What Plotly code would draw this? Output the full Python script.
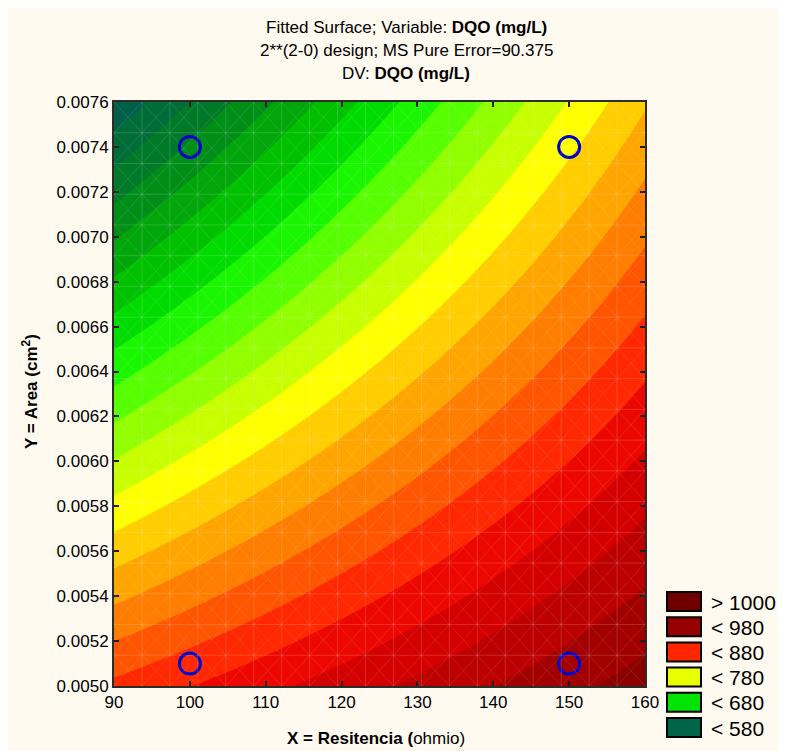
import numpy as np
import plotly.graph_objects as go

# ---- data ----
x_design = [100, 150]                 # Resitencia (ohmio)
y_design = [0.0051, 0.0074]           # Area (cm2)
dqo_low_y = [868, 947]                # fitted DQO at y=0.0051 for x=100,150
dqo_high_y = [603, 776]               # fitted DQO at y=0.0074 for x=100,150

x_ticks = [90, 100, 110, 120, 130, 140, 150, 160]
y_ticks = [0.0050, 0.0052, 0.0054, 0.0056, 0.0058, 0.0060, 0.0062, 0.0064,
           0.0066, 0.0068, 0.0070, 0.0072, 0.0074, 0.0076]

legend_labels = ["> 1000", "< 980", "< 880", "< 780", "< 680", "< 580"]
legend_colors = ["rgb(112,0,0)", "rgb(150,0,0)", "rgb(255,38,0)",
                 "rgb(232,255,0)", "rgb(0,228,0)", "rgb(0,100,72)"]

level_start, level_end, level_step = 560, 980, 20
band_colors = [
    "rgb(0,95,72)", "rgb(0,108,56)", "rgb(0,122,40)", "rgb(0,142,24)",
    "rgb(0,166,10)", "rgb(0,192,0)", "rgb(0,220,0)", "rgb(25,246,0)",
    "rgb(85,255,0)", "rgb(145,255,0)", "rgb(200,255,0)", "rgb(255,255,0)",
    "rgb(255,205,0)", "rgb(255,165,0)", "rgb(255,125,0)", "rgb(255,85,0)",
    "rgb(255,40,0)", "rgb(236,8,0)", "rgb(212,0,0)", "rgb(188,0,0)",
    "rgb(162,0,0)", "rgb(138,0,0)", "rgb(112,0,0)"]

# ---- fitted 2**(2-0) model (linear + interaction) through the design points ----
x0, x1 = x_design
y0, y1 = y_design
gx = np.linspace(90, 160, 281)
gy = np.linspace(0.0050, 0.0076, 261)
X, Y = np.meshgrid(gx, gy)
u = (X - x0) / (x1 - x0)
v = (Y - y0) / (y1 - y0)
Z = (dqo_low_y[0] * (1 - u) * (1 - v) + dqo_low_y[1] * u * (1 - v)
     + dqo_high_y[0] * (1 - u) * v + dqo_high_y[1] * u * v)

n = len(band_colors)
colorscale = [[i / (n - 1), c] for i, c in enumerate(band_colors)]

FONT = "Arial, Liberation Sans, sans-serif"

fig = go.Figure()
fig.add_trace(go.Contour(
    x=gx, y=gy, z=Z,
    contours=dict(start=level_start, end=level_end, size=level_step, coloring="fill"),
    line=dict(width=0),
    colorscale=colorscale,
    showscale=False,
    hoverinfo="skip",
))

px_, py_ = [], []
for yy in y_design:
    for xx in x_design:
        px_.append(xx)
        py_.append(yy)
fig.add_trace(go.Scatter(
    x=px_, y=py_, mode="markers",
    marker=dict(symbol="circle-open", size=21, color="rgb(0,0,205)",
                line=dict(width=3, color="rgb(0,0,205)")),
    showlegend=False, hoverinfo="skip",
))

# page offset (body margin) so positions below are in screenshot pixels
OFF = 8
W, H = 778, 743
L, T = 114 - OFF, 102 - OFF
R = W - (645 - OFF)
B = H - (686 - OFF)
pw, ph = W - L - R, H - T - B

def pxx(p):
    return (p - OFF - L) / pw

def pyy(p):
    return (H - B - (p - OFF)) / ph

annotations = []
titles = [
    ("Fitted Surface; Variable: <b>DQO (mg/L)</b>", 27),
    ("2**(2-0) design; MS Pure Error=90.375", 50),
    ("DV: <b>DQO (mg/L)</b>", 73),
]
for txt, yp in titles:
    annotations.append(dict(text=txt, xref="paper", yref="paper", x=pxx(406), y=pyy(yp),
                            xanchor="center", yanchor="middle", showarrow=False,
                            font=dict(family=FONT, size=17, color="black")))
annotations.append(dict(text="<b>X = Resitencia (</b>ohmio)", xref="paper", yref="paper",
                        x=pxx(376), y=pyy(738), xanchor="center", yanchor="middle",
                        showarrow=False, font=dict(family=FONT, size=17, color="black")))
annotations.append(dict(text="<b>Y = Area (cm<sup>2</sup>)</b>", xref="paper", yref="paper",
                        x=pxx(30), y=pyy(392), xanchor="center", yanchor="middle",
                        textangle=-90, showarrow=False,
                        font=dict(family=FONT, size=17, color="black")))

shapes = []
# faint triangulation mesh of the fitted surface
NG = 19
mesh = "rgba(255,255,255,0.16)"
for k in range(1, NG):
    f = k / NG
    shapes.append(dict(type="line", xref="paper", yref="paper", x0=f, x1=f, y0=0, y1=1,
                       line=dict(color=mesh, width=1), layer="above"))
    shapes.append(dict(type="line", xref="paper", yref="paper", x0=0, x1=1, y0=f, y1=f,
                       line=dict(color=mesh, width=1), layer="above"))
diag = "rgba(255,255,255,0.11)"
for c in range(-NG + 1, NG):
    f = c / NG
    if c >= 0:
        shapes.append(dict(type="line", xref="paper", yref="paper", x0=f, y0=0, x1=1, y1=1 - f,
                           line=dict(color=diag, width=1), layer="above"))
        shapes.append(dict(type="line", xref="paper", yref="paper", x0=f, y0=1, x1=1, y1=f,
                           line=dict(color=diag, width=1), layer="above"))
    else:
        shapes.append(dict(type="line", xref="paper", yref="paper", x0=0, y0=-f, x1=1 + f, y1=1,
                           line=dict(color=diag, width=1), layer="above"))
        shapes.append(dict(type="line", xref="paper", yref="paper", x0=0, y0=1 + f, x1=1 + f, y1=0,
                           line=dict(color=diag, width=1), layer="above"))

box_top = 592
for i, (lab, col) in enumerate(zip(legend_labels, legend_colors)):
    t = box_top + i * 25.2
    shapes.append(dict(type="rect", xref="paper", yref="paper",
                       x0=pxx(667), x1=pxx(701), y0=pyy(t), y1=pyy(t + 19),
                       fillcolor=col, line=dict(color="black", width=2)))
    annotations.append(dict(text=lab, xref="paper", yref="paper", x=pxx(709),
                            y=pyy(t + 10), xanchor="left", yanchor="middle",
                            showarrow=False, font=dict(family=FONT, size=21, color="black")))

axis_common = dict(showgrid=False, zeroline=False, showline=True, mirror="ticks",
                   linecolor="rgb(45,45,40)", linewidth=2, ticks="inside", ticklen=5,
                   tickcolor="rgb(30,30,30)", tickwidth=2,
                   tickfont=dict(family=FONT, size=17, color="black"))

fig.update_layout(
    width=W, height=H,
    margin=dict(l=L, r=R, t=T, b=B, pad=0),
    paper_bgcolor="rgb(255,250,240)",
    plot_bgcolor="rgb(255,250,240)",
    xaxis=dict(range=[90, 160], tickvals=x_ticks, ticktext=[str(v) for v in x_ticks],
               **axis_common),
    yaxis=dict(range=[0.0050, 0.0076], tickvals=y_ticks,
               ticktext=[f"{v:.4f}" for v in y_ticks], **axis_common),
    annotations=annotations,
    shapes=shapes,
    showlegend=False,
)

fig.write_html("out.html")
